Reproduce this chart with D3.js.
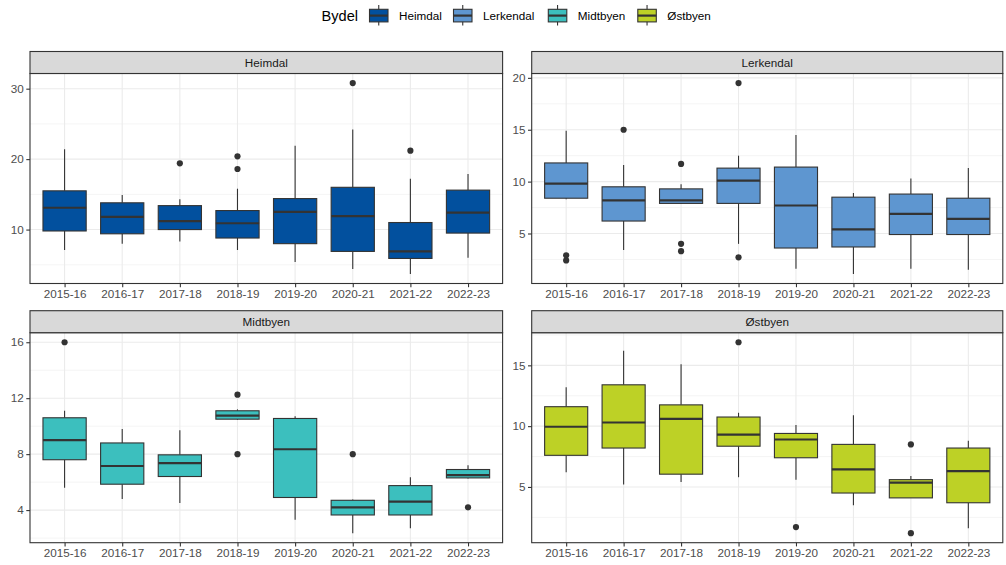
<!DOCTYPE html>
<html>
<head>
<meta charset="utf-8">
<script src="https://cdn.jsdelivr.net/npm/d3@7"></script>
<style>
  html, body { margin: 0; padding: 0; background: #fff; }
  svg { display: block; font-family: "Liberation Sans", Arial, sans-serif; }
</style>
</head>
<body>
<svg id="chart" width="1006" height="565"></svg>
<script>
// ---- Data ----
const seasons = ["2015-16","2016-17","2017-18","2018-19","2019-20","2020-21","2021-22","2022-23"];
const districts = ["Heimdal","Lerkendal","Midtbyen","Østbyen"];
const districtColors = ["#02509E","#5E96D0","#3CBFBE","#BDD126"];

// [lower whisker, Q1, median, Q3, upper whisker] per season
const heimdalStats = [
  [7.1, 9.8, 13.1, 15.5, 21.4],
  [8.0, 9.4, 11.8, 13.8, 14.9],
  [8.3, 10.0, 11.2, 13.4, 14.3],
  [7.1, 8.8, 10.9, 12.7, 15.8],
  [5.4, 8.0, 12.5, 14.4, 21.9],
  [4.4, 6.9, 11.9, 16.0, 24.2],
  [3.7, 5.9, 6.9, 11.0, 17.2],
  [6.0, 9.5, 12.4, 15.6, 17.9]
];
const heimdalOutliers = [[], [], [19.4], [20.4, 18.6], [], [30.8], [21.2], []];

const lerkendalStats = [
  [8.3, 8.4, 9.8, 11.8, 14.9],
  [3.4, 6.2, 8.2, 9.5, 11.6],
  [7.85, 7.9, 8.2, 9.3, 9.75],
  [4.0, 7.9, 10.1, 11.3, 12.5],
  [1.6, 3.6, 7.7, 11.4, 14.5],
  [1.1, 3.7, 5.4, 8.5, 8.9],
  [1.6, 4.9, 6.9, 8.8, 10.3],
  [1.5, 4.9, 6.4, 8.4, 11.3]
];
const lerkendalOutliers = [[2.9, 2.4], [15.0], [11.7, 4.0, 3.3], [19.5, 2.7], [], [], [], []];

const midtbyenStats = [
  [5.6, 7.6, 9.0, 10.6, 11.1],
  [4.8, 5.85, 7.15, 8.8, 9.8],
  [4.5, 6.4, 7.35, 7.95, 9.7],
  [10.45, 10.5, 10.75, 11.1, 11.2],
  [3.3, 4.9, 8.35, 10.55, 10.7],
  [2.35, 3.65, 4.2, 4.7, 4.75],
  [2.7, 3.65, 4.6, 5.75, 6.35],
  [6.25, 6.3, 6.5, 6.9, 7.2]
];
const midtbyenOutliers = [[16.0], [], [], [12.25, 8.0], [], [8.0], [], [4.2]];

const ostbyenStats = [
  [6.2, 7.6, 9.95, 11.6, 13.2],
  [5.2, 8.2, 10.3, 13.4, 16.2],
  [5.4, 6.05, 10.6, 11.75, 15.1],
  [5.8, 8.35, 9.3, 10.75, 11.1],
  [5.6, 7.4, 8.9, 9.4, 10.1],
  [3.5, 4.5, 6.45, 8.5, 10.9],
  [4.1, 4.1, 5.35, 5.6, 5.9],
  [1.6, 3.7, 6.3, 8.2, 8.8]
];
const ostbyenOutliers = [[], [], [], [16.9], [1.7], [], [8.5, 1.2], []];

const majorTicks = [[10, 20, 30], [5, 10, 15, 20], [4, 8, 12, 16], [5, 10, 15]];
const minorTicks = [[5, 15, 25], [2.5, 7.5, 12.5, 17.5], [2, 6, 10, 14], [2.5, 7.5, 12.5, 17.5]];

const allStats = [heimdalStats, lerkendalStats, midtbyenStats, ostbyenStats];
const allOutliers = [heimdalOutliers, lerkendalOutliers, midtbyenOutliers, ostbyenOutliers];

// ---- Layout ----
const svg = d3.select("#chart");
const panels = [
  {x0: 30,    x1: 502.6,  y0: 73.5,  y1: 283.5, stripTop: 51.5},
  {x0: 531.7, x1: 1002.8, y0: 73.5,  y1: 283.5, stripTop: 51.5},
  {x0: 30,    x1: 502.6,  y0: 332.7, y1: 542.7, stripTop: 310.7},
  {x0: 531.7, x1: 1002.8, y0: 332.7, y1: 542.7, stripTop: 310.7}
];
const darkLine = "#333333";
const gridCol = "#EBEBEB";

districts.forEach((name, i) => {
  const p = panels[i];
  const stats = allStats[i];
  const outs = allOutliers[i];
  const vals = stats.flat().concat(outs.flat());
  const mn = d3.min(vals), mx = d3.max(vals), pad = (mx - mn) * 0.05;

  const x = d3.scaleBand().domain(seasons).range([p.x0, p.x1]).paddingOuter(0.1).paddingInner(0);
  // ggplot discrete expansion: 0.6 units on each side
  const step = (p.x1 - p.x0) / (seasons.length - 1 + 1.2);
  const xc = d3.scalePoint().domain(seasons).range([p.x0 + 0.6 * step, p.x1 - 0.6 * step]);
  const y = d3.scaleLinear().domain([mn - pad, mx + pad]).range([p.y1, p.y0]);

  const g = svg.append("g");

  // panel background
  g.append("rect").attr("x", p.x0).attr("y", p.y0).attr("width", p.x1 - p.x0).attr("height", p.y1 - p.y0)
    .attr("fill", "#fff");

  // minor grid
  g.selectAll(".minor").data(minorTicks[i].filter(v => v >= y.domain()[0] && v <= y.domain()[1])).join("line")
    .attr("x1", p.x0).attr("x2", p.x1).attr("y1", d => y(d)).attr("y2", d => y(d))
    .attr("stroke", gridCol).attr("stroke-width", 0.55);
  // major grid
  g.selectAll(".major").data(majorTicks[i]).join("line")
    .attr("x1", p.x0).attr("x2", p.x1).attr("y1", d => y(d)).attr("y2", d => y(d))
    .attr("stroke", gridCol).attr("stroke-width", 1.1);
  g.selectAll(".vmajor").data(seasons).join("line")
    .attr("x1", d => xc(d)).attr("x2", d => xc(d)).attr("y1", p.y0).attr("y2", p.y1)
    .attr("stroke", gridCol).attr("stroke-width", 1.1);

  // boxes
  const bw = step * 0.75;
  const bx = g.selectAll(".box").data(stats.map((s, j) => ({s, season: seasons[j]}))).join("g");
  bx.append("line").attr("x1", d => xc(d.season)).attr("x2", d => xc(d.season))
    .attr("y1", d => y(d.s[4])).attr("y2", d => y(d.s[3])).attr("stroke", darkLine).attr("stroke-width", 1.1);
  bx.append("line").attr("x1", d => xc(d.season)).attr("x2", d => xc(d.season))
    .attr("y1", d => y(d.s[1])).attr("y2", d => y(d.s[0])).attr("stroke", darkLine).attr("stroke-width", 1.1);
  bx.append("rect").attr("x", d => xc(d.season) - bw / 2).attr("width", bw)
    .attr("y", d => y(d.s[3])).attr("height", d => y(d.s[1]) - y(d.s[3]))
    .attr("fill", districtColors[i]).attr("stroke", darkLine).attr("stroke-width", 1.1);
  bx.append("line").attr("x1", d => xc(d.season) - bw / 2).attr("x2", d => xc(d.season) + bw / 2)
    .attr("y1", d => y(d.s[2])).attr("y2", d => y(d.s[2])).attr("stroke", darkLine).attr("stroke-width", 2.2);

  // outliers
  const outPts = [];
  outs.forEach((arr, j) => arr.forEach(v => outPts.push({season: seasons[j], v})));
  g.selectAll(".out").data(outPts).join("circle")
    .attr("cx", d => xc(d.season)).attr("cy", d => y(d.v)).attr("r", 3.1).attr("fill", darkLine);

  // panel border
  g.append("rect").attr("x", p.x0).attr("y", p.y0).attr("width", p.x1 - p.x0).attr("height", p.y1 - p.y0)
    .attr("fill", "none").attr("stroke", darkLine).attr("stroke-width", 1.1);

  // strip
  g.append("rect").attr("x", p.x0).attr("y", p.stripTop).attr("width", p.x1 - p.x0).attr("height", p.y0 - p.stripTop)
    .attr("fill", "#D9D9D9").attr("stroke", darkLine).attr("stroke-width", 1.1);
  g.append("text").attr("x", (p.x0 + p.x1) / 2).attr("y", (p.stripTop + p.y0) / 2 + 4.2)
    .attr("text-anchor", "middle").attr("font-size", 11.7).attr("fill", "#1A1A1A").text(name);

  // axes
  const yAxis = d3.axisLeft(y).tickValues(majorTicks[i]).tickSize(3.7).tickPadding(2.5).tickFormat(d3.format("d"));
  const ya = g.append("g").attr("transform", `translate(${p.x0},0)`).call(yAxis);
  const xAxis = d3.axisBottom(xc).tickSize(3.7).tickPadding(2.5);
  const xa = g.append("g").attr("transform", `translate(0,${p.y1})`).call(xAxis);
  [ya, xa].forEach(a => {
    a.select(".domain").remove();
    a.selectAll(".tick line").attr("stroke", darkLine).attr("stroke-width", 1.1);
    a.selectAll(".tick text").attr("fill", "#4D4D4D").attr("font-size", 11.7)
      .attr("font-family", '"Liberation Sans", Arial, sans-serif');
  });
});

// ---- Legend ----
const leg = svg.append("g");
leg.append("text").attr("x", 321.5).attr("y", 21).attr("font-size", 14.6).attr("fill", "#000").text("Bydel");
const legX = [369.5, 453.5, 548.3, 637.8];
districts.forEach((name, i) => {
  const kx = legX[i], kw = 18.5, cx = kx + kw / 2;
  leg.append("line").attr("x1", cx).attr("x2", cx).attr("y1", 5).attr("y2", 25.5)
    .attr("stroke", darkLine).attr("stroke-width", 1.1);
  leg.append("rect").attr("x", kx).attr("y", 9.3).attr("width", kw).attr("height", 12.6)
    .attr("fill", districtColors[i]).attr("stroke", darkLine).attr("stroke-width", 1.1);
  leg.append("line").attr("x1", kx).attr("x2", kx + kw).attr("y1", 15.6).attr("y2", 15.6)
    .attr("stroke", darkLine).attr("stroke-width", 2.2);
  leg.append("text").attr("x", kx + kw + 11).attr("y", 19.8).attr("font-size", 11.7).attr("fill", "#000").text(name);
});
</script>
</body>
</html>
